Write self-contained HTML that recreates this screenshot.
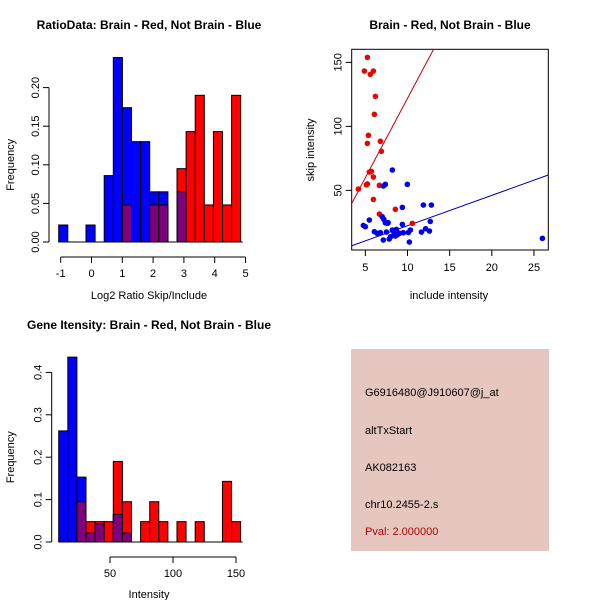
<!DOCTYPE html>
<html><head><meta charset="utf-8"><style>
body{margin:0;background:#fff}
svg{display:block;font-family:"Liberation Sans",sans-serif}
</style></head><body>
<svg id="c" width="600" height="600" viewBox="0 0 600 600">
<rect x="351" y="349" width="198" height="202" fill="#E5C7C0"/>
<g font-size="11">
<text x="365" y="396">G6916480@J910607@j_at</text>
<text x="365" y="434">altTxStart</text>
<text x="365" y="471">AK082163</text>
<text x="365" y="508">chr10.2455-2.s</text>
<text x="365" y="535" fill="#B00000">Pval: 2.000000</text>
</g>
</svg>
<script>
// ---- Ratio histogram data ----
const ratioBinStart = -1.065, ratioBinWidth = 0.2955;
const ratioBlue = [0.022,0,0,0.022,0,0.086,0.239,0.174,0.13,0.13,0.065,0.065,0,0.065,0,0,0,0,0,0];
const ratioRed  = [0,0,0,0,0,0,0,0.048,0,0,0.048,0.048,0,0.095,0.143,0.19,0.048,0.143,0.048,0.19];
const ratioXTicks = [-1,0,1,2,3,4,5];
const ratioYTicks = ["0.00","0.05","0.10","0.15","0.20"];
// ---- Intensity histogram data ----
const intBinStart = 9.3, intBinWidth = 7.22;
const intBlue = [0.262,0.436,0.153,0.021,0.043,0,0.065,0.021,0,0,0,0,0,0,0,0,0,0,0,0];
const intRed  = [0,0,0.095,0.048,0.048,0.048,0.19,0.095,0,0.048,0.095,0.048,0,0.048,0,0.048,0,0,0.143,0.048];
const intXTicks = [50,100,150];
const intYTicks = ["0.0","0.1","0.2","0.3","0.4"];
// ---- Scatter data ----
const redX = [5.24,4.88,5.59,5.95,6.19,6.07,5.36,5.24,6.78,6.9,4.17,5.12,5.24,5.47,5.71,5.95,6.66,5.95,6.66,8.56,10.57];
const redY = [153.9,143.2,140.6,143.2,123.4,109.4,93,86.7,88.3,80.5,51,54.4,55,64.3,64.8,60.4,53.9,42.9,31.5,35.2,24.2];
const blueX = [4.76,5,5.47,7.13,7.37,8.2,9.98,9.39,11.88,12.83,12.7,12.15,12.6,11.65,10.34,10.1,10.22,9.5,9.39,9.03,7,7.2,7.37,7.6,7.7,6.07,6.4,6.78,7.5,7.13,7.83,8,8.2,8.4,8.68,8.8,8.56,26];
const blueY = [22.6,21.6,26.8,53.4,54.7,65.9,54.7,36.7,38.5,38.5,25.7,20,18.2,17.4,19,17.1,9.6,16.9,23.4,16.4,29.4,27.3,24.7,24.2,24.7,17.7,16.4,16.9,17.4,11.2,12,13.8,19,16.9,19.5,15.4,14.3,12.5];
const redFit = [-2.1, 12.4];   // intercept, slope
const blueFit = [-1.3, 2.37];
const scatXTicks = [5,10,15,20,25];
const scatYTicks = [50,100,150];

const NS="http://www.w3.org/2000/svg";
const svg=document.getElementById('c');
function mk(tag,attrs,parent){const e=document.createElementNS(NS,tag);for(const k in attrs)e.setAttribute(k,attrs[k]);(parent||svg).appendChild(e);return e;}
function txt(s,x,y,attrs,parent){const e=mk('text',Object.assign({x:x,y:y},attrs||{}),parent);e.textContent=s;return e;}

function hist(o){
  const g=mk('g',{});
  
  
  const sx=v=>o.x0px+(v-o.x0)*o.xs, sy=v=>o.y0px-v*o.ys;
  for(let k=0;k<o.blue.length;k++){
    const l=o.binStart+k*o.binWidth, r=l+o.binWidth;
    const b=o.blue[k], rd=o.red[k], m=Math.min(b,rd);
    const x=sx(l), w=sx(r)-sx(l);
    if(b>0){const e=mk('rect',{x:x,y:sy(b),width:w,height:sy(0)-sy(b),fill:'#0000FF',stroke:'#000','stroke-width':1},g);
      }
    if(rd>0){const e=mk('rect',{x:x,y:sy(rd),width:w,height:sy(0)-sy(rd),fill:'#FF0000',stroke:'#000','stroke-width':1},g);
      }
    if(m>0){const e=mk('rect',{x:x,y:sy(m),width:w,height:sy(0)-sy(m),fill:'#7F007F',stroke:'#000','stroke-width':1},g);
      }
  }
  // baseline
  mk('line',{x1:sx(o.binStart),x2:sx(o.binStart+o.blue.length*o.binWidth)+2,y1:sy(0),y2:sy(0),stroke:'#000'},g);
  // y axis
  const yv=o.yTicks.map(Number);
  const ya=mk('g',{},g);
  mk('line',{x1:o.axX,x2:o.axX,y1:sy(yv[0]),y2:sy(yv[yv.length-1]),stroke:'#000'},ya);
  o.yTicks.forEach((t,i)=>{const y=sy(yv[i]);mk('line',{x1:o.axX-6,x2:o.axX,y1:y,y2:y,stroke:'#000'},ya);
    txt(t,o.axX-10,y,{'font-size':11,'text-anchor':'middle',transform:`rotate(-90 ${o.axX-10} ${y})`},ya);});
  // x axis
  const xa=mk('g',{},g);
  const ay=o.y0px+15;
  mk('line',{x1:sx(o.xTicks[0]),x2:sx(o.xTicks[o.xTicks.length-1]),y1:ay,y2:ay,stroke:'#000'},xa);
  o.xTicks.forEach(t=>{const x=sx(t);mk('line',{x1:x,x2:x,y1:ay,y2:ay+6,stroke:'#000'},xa);
    txt(String(t),x,ay+20,{'font-size':11,'text-anchor':'middle'},xa);});
  const tt=txt(o.title,149,o.titleY,{'font-size':12,'font-weight':'bold','text-anchor':'middle'},g);
  
  const xl=txt(o.xlab,149,o.xlabY,{'font-size':11,'text-anchor':'middle'},g);
  
  const yc=(sy(yv[0])+sy(yv[yv.length-1]))/2;
  const yl=txt('Frequency',14,yc,{'font-size':11,'text-anchor':'middle',transform:`rotate(-90 14 ${yc})`},g);
  
}

hist({name:'ratio-histogram',blue:ratioBlue,red:ratioRed,binStart:ratioBinStart,binWidth:ratioBinWidth,
  x0:-1,x0px:60.7,xs:30.8,y0px:242,ys:772,axX:49,xTicks:ratioXTicks,yTicks:ratioYTicks,
  title:'RatioData: Brain - Red, Not Brain - Blue',titleY:29,xlab:'Log2 Ratio Skip/Include',xlabY:299});
hist({name:'intensity-histogram',blue:intBlue,red:intRed,binStart:intBinStart,binWidth:intBinWidth,
  x0:50,x0px:110,xs:1.26,y0px:542,ys:424,axX:51.7,xTicks:intXTicks,yTicks:intYTicks,
  title:'Gene Itensity: Brain - Red, Not Brain - Blue',titleY:329,xlab:'Intensity',xlabY:598});

// ---- Scatter ----
(function(){
  const g=mk('g',{});
  
  
  const L=351.7,R=548.3,T=49.3,B=250, xmin=3.38,xmax=26.7,ymin=3.4,ymax=160.2;
  const sx=v=>L+(v-xmin)/(xmax-xmin)*(R-L), sy=v=>B-(v-ymin)/(ymax-ymin)*(B-T);
  mk('clipPath',{id:'sc'},g); mk('rect',{x:L,y:T,width:R-L,height:B-T},g.lastChild);
  const fr=mk('rect',{x:L,y:T,width:R-L,height:B-T,fill:'none',stroke:'#000'},g);
  
  [[redFit,'#C00000','red-fit-line'],[blueFit,'#0000B0','blue-fit-line']].forEach(([f,c,n])=>{
    const e=mk('line',{x1:sx(xmin),y1:sy(f[0]+f[1]*xmin),x2:sx(xmax),y2:sy(f[0]+f[1]*xmax),stroke:c,'clip-path':'url(#sc)'},g);
    });
  redX.forEach((x,i)=>{const e=mk('circle',{cx:sx(x),cy:sy(redY[i]),r:2.8,fill:'#EE0000'},g);
    });
  blueX.forEach((x,i)=>{const e=mk('circle',{cx:sx(x),cy:sy(blueY[i]),r:2.8,fill:'#0000EE'},g);
    });
  const xa=mk('g',{},g);
  mk('line',{x1:sx(scatXTicks[0]),x2:sx(scatXTicks[scatXTicks.length-1]),y1:B,y2:B,stroke:'#000'},xa);
  scatXTicks.forEach(t=>{const x=sx(t);mk('line',{x1:x,x2:x,y1:B,y2:B+6,stroke:'#000'},xa);
    txt(String(t),x,B+21,{'font-size':11,'text-anchor':'middle'},xa);});
  const ya=mk('g',{},g);
  scatYTicks.forEach(t=>{const y=sy(t);mk('line',{x1:L-6,x2:L,y1:y,y2:y,stroke:'#000'},ya);
    txt(String(t),L-10,y,{'font-size':11,'text-anchor':'middle',transform:`rotate(-90 ${L-10} ${y})`},ya);});
  const tt=txt('Brain - Red, Not Brain - Blue',450,29,{'font-size':12,'font-weight':'bold','text-anchor':'middle'},g);
  
  const xl=txt('include intensity',449,299,{'font-size':11,'text-anchor':'middle'},g);
  
  const yl=txt('skip intensity',314,150,{'font-size':11,'text-anchor':'middle',transform:'rotate(-90 314 150)'},g);
  
})();
</script>
</body></html>
